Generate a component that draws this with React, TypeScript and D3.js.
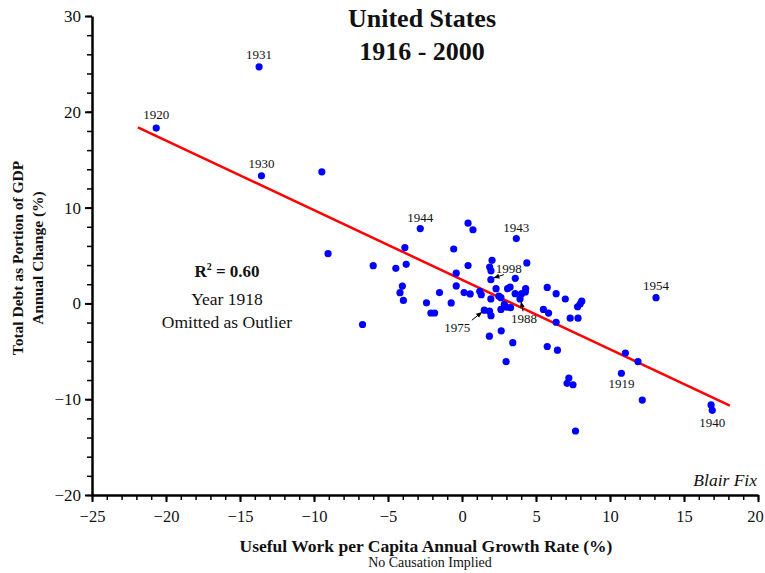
import { useEffect, useRef } from 'react';
import * as d3 from 'd3';

// labelled years first, in the same order as the x/y arrays
const labelYears = ['1920', '1931', '1930', '1944', '1943', '1998', '1975', '1988', '1954', '1919', '1940'];

// useful work per capita growth (%)
const workGrowth = [
  -20.66, -13.71, -13.55, -2.82, 3.67, 1.95, 1.51, 3.92, 13.11, 10.77, 16.91,
  -9.47, -9.05, -6.72, -6.0, -4.47, -3.86, -3.77, -4.03, -4.19, -3.96,
  -1.52, -2.4, -2.1, -1.85, -0.73, -0.56, -0.39, -0.39, 0.41, 0.74,
  0.41, 0.14, 0.55, 1.2, 1.3, 2.03, 1.87, 1.96, 2.3, 1.95,
  2.49, 2.63, 1.86, 1.96, 2.63, 2.86, 3.01, 3.28, 1.85, 2.65,
  3.43, 2.98, 4.38, 3.6, 3.08, 3.25, 4.3, 4.28, 3.59, 4.03,
  5.76, 6.36, 6.98, 8.09, 7.98, 7.81, 5.5, 5.85, 6.36, 7.31,
  7.84, 5.76, 6.45, 7.22, 7.1, 7.5, 7.67, 11.04, 11.89, 12.18,
  16.83
];

// total debt / GDP annual change (%)
const debtChange = [
  18.3, 24.69, 13.32, 7.81, 6.77, 2.48, -0.71, 0.47, 0.6, -7.29, -11.16,
  13.73, 5.2, -2.2, 3.94, 3.66, 5.83, 4.08, 1.81, 1.12, 0.31,
  1.13, 0.06, -1.0, -1.0, 0.05, 5.68, 3.16, 1.82, 8.37, 7.69,
  3.95, 1.13, 0.99, 1.26, 0.91, 4.5, 3.8, 3.4, 1.54, 0.47,
  0.75, 0.6, -0.81, -1.28, -0.63, -0.1, -0.4, -0.45, -3.42, -2.86,
  -4.1, -6.07, 4.22, 2.62, 1.54, 1.71, 1.55, 1.2, 1.01, 1.01,
  1.67, 1.01, 0.46, 0.23, -0.07, -0.35, -0.63, -1.01, -1.97, -1.54,
  -1.54, -4.5, -4.88, -7.79, -8.34, -8.49, -13.32, -5.18, -6.07, -10.09,
  -10.6
];

// fitted line
const fitSlope = -0.7264;
const fitIntercept = 2.47;
const fitRange = [-21.9, 18.1];

const xTicks = [-25, -20, -15, -10, -5, 0, 5, 10, 15, 20];
const yTicks = [-20, -10, 0, 10, 20, 30];

const serif = '"Liberation Serif", "Times New Roman", serif';

const App = () => {
  const svgRef = useRef(null);

  useEffect(() => {
    const width = 765;
    const height = 573;
    const margin = { top: 16, right: 7, bottom: 78, left: 92 };

    const svg = d3.select(svgRef.current)
      .attr('width', width)
      .attr('height', height)
      .style('font-family', serif);
    svg.selectAll('*').remove();

    const x = d3.scaleLinear()
      .domain([-25, 20])
      .range([margin.left, width - margin.right]);

    const y = d3.scaleLinear()
      .domain([-20, 30])
      .range([height - margin.bottom, margin.top]);

    const bottom = height - margin.bottom;

    // minor ticks
    svg.append('g')
      .attr('transform', `translate(0, ${bottom})`)
      .call(d3.axisBottom(x).tickValues(d3.range(-25, 21, 1)).tickSize(5).tickFormat(() => ''))
      .call(g => g.select('.domain').remove())
      .selectAll('line').attr('stroke-width', 1.5);

    svg.append('g')
      .attr('transform', `translate(${margin.left}, 0)`)
      .call(d3.axisLeft(y).tickValues(d3.range(-20, 31, 2)).tickSize(5).tickFormat(() => ''))
      .call(g => g.select('.domain').remove())
      .selectAll('line').attr('stroke-width', 1.5);

    // major ticks + labels
    const xAxis = svg.append('g')
      .attr('transform', `translate(0, ${bottom})`)
      .call(d3.axisBottom(x).tickValues(xTicks).tickSize(7).tickSizeOuter(0).tickPadding(8));
    xAxis.select('.domain').attr('stroke-width', 2.5);
    xAxis.selectAll('line').attr('stroke-width', 2);
    xAxis.selectAll('text')
      .attr('font-size', 16.5)
      .attr('font-family', serif)
      .attr('fill', '#111')
      .attr('dx', d => (d === 20 ? -3 : 0));

    const yAxis = svg.append('g')
      .attr('transform', `translate(${margin.left}, 0)`)
      .call(d3.axisLeft(y).tickValues(yTicks).tickSize(7).tickSizeOuter(0).tickPadding(4));
    yAxis.select('.domain').attr('stroke-width', 2.5);
    yAxis.selectAll('line').attr('stroke-width', 2);
    yAxis.selectAll('text').attr('font-size', 17).attr('font-family', serif).attr('fill', '#111');

    // regression line
    const line = d3.line<number>()
      .x(d => x(d))
      .y(d => y(fitIntercept + fitSlope * d));

    svg.append('path')
      .attr('fill', 'none')
      .attr('stroke', '#ff0000')
      .attr('stroke-width', 2.5)
      .attr('d', line(fitRange));

    // points
    const points = workGrowth.map((v, i) => ({ x: v, y: debtChange[i] }));

    svg.selectAll('.point')
      .data(points)
      .enter().append('circle')
      .attr('class', 'point')
      .attr('cx', d => x(d.x))
      .attr('cy', d => y(d.y))
      .attr('r', 3.6)
      .attr('fill', '#0000ff');

    // year labels
    const placement = {
      '1920': { dx: 0, dy: -9 },
      '1931': { dx: 0, dy: -8 },
      '1930': { dx: 0, dy: -8 },
      '1944': { dx: 0, dy: -7 },
      '1943': { dx: 0, dy: -7 },
      '1954': { dx: 0, dy: -8 },
      '1919': { dx: 0, dy: 15 },
      '1940': { dx: 0, dy: 17 },
      '1998': { dx: 18, dy: -7, arrow: [13, -5, 3.5, -2] },
      '1975': { dx: -27, dy: 22, arrow: [-12.5, 10, -3, 2.5] },
      '1988': { dx: 4, dy: 24, arrow: [3, 12.5, 1.2, 3.5] },
    };

    const defs = svg.append('defs');
    defs.append('marker')
      .attr('id', 'arrowhead')
      .attr('markerWidth', 6)
      .attr('markerHeight', 6)
      .attr('refX', 5)
      .attr('refY', 3)
      .attr('orient', 'auto')
      .attr('markerUnits', 'userSpaceOnUse')
      .append('path')
      .attr('d', 'M0,0.5 L6,3 L0,5.5 z')
      .attr('fill', '#000');

    labelYears.forEach((year, i) => {
      const p = placement[year];
      const px = x(workGrowth[i]);
      const py = y(debtChange[i]);
      svg.append('text')
        .attr('x', px + p.dx)
        .attr('y', py + p.dy)
        .attr('text-anchor', 'middle')
        .attr('font-size', 13)
        .attr('fill', '#111')
        .text(year);
      if (p.arrow) {
        svg.append('line')
          .attr('x1', px + p.arrow[0])
          .attr('y1', py + p.arrow[1])
          .attr('x2', px + p.arrow[2])
          .attr('y2', py + p.arrow[3])
          .attr('stroke', '#000')
          .attr('stroke-width', 1)
          .attr('marker-end', 'url(#arrowhead)');
      }
    });

    // title
    const title = svg.append('text')
      .attr('text-anchor', 'middle')
      .attr('font-size', 26)
      .attr('font-weight', 'bold')
      .attr('fill', '#111');
    title.append('tspan').attr('x', 422).attr('y', 27).text('United States');
    title.append('tspan').attr('x', 422).attr('y', 60).text('1916 - 2000');

    // fit annotation
    const note = svg.append('g').attr('text-anchor', 'middle').attr('fill', '#111');
    const r2 = note.append('text')
      .attr('x', 227).attr('y', 277)
      .attr('font-size', 17).attr('font-weight', 'bold');
    r2.append('tspan').text('R');
    r2.append('tspan').attr('font-size', 10).attr('dy', -7).text('2');
    r2.append('tspan').attr('dy', 7).text(' = 0.60');
    note.append('text').attr('x', 227).attr('y', 305).attr('font-size', 17.5).text('Year 1918');
    note.append('text').attr('x', 227).attr('y', 328).attr('font-size', 17.5).text('Omitted as Outlier');

    svg.append('text')
      .attr('x', 757).attr('y', 486)
      .attr('text-anchor', 'end')
      .attr('font-size', 17.5)
      .attr('font-style', 'italic')
      .attr('fill', '#111')
      .text('Blair Fix');

    // axis titles
    svg.append('text')
      .attr('x', 426).attr('y', 552)
      .attr('text-anchor', 'middle')
      .attr('font-size', 17.5)
      .attr('font-weight', 'bold')
      .attr('fill', '#111')
      .text('Useful Work per Capita Annual Growth Rate (%)');

    svg.append('text')
      .attr('x', 430).attr('y', 567)
      .attr('text-anchor', 'middle')
      .attr('font-size', 14)
      .attr('fill', '#111')
      .text('No Causation Implied');

    const yTitle = svg.append('text')
      .attr('transform', 'translate(0, 258) rotate(-90)')
      .attr('text-anchor', 'middle')
      .attr('font-size', 15.5)
      .attr('font-weight', 'bold')
      .attr('fill', '#111');
    yTitle.append('tspan').attr('x', 0).attr('y', 23).text('Total Debt as Portion of GDP');
    yTitle.append('tspan').attr('x', 0).attr('y', 43).text('Annual Change (%)');
  }, []);

  return (
    <div style={{ position: 'absolute', left: 0, top: 0 }}>
      <svg ref={svgRef} style={{ display: 'block' }} />
    </div>
  );
};

export default App;
